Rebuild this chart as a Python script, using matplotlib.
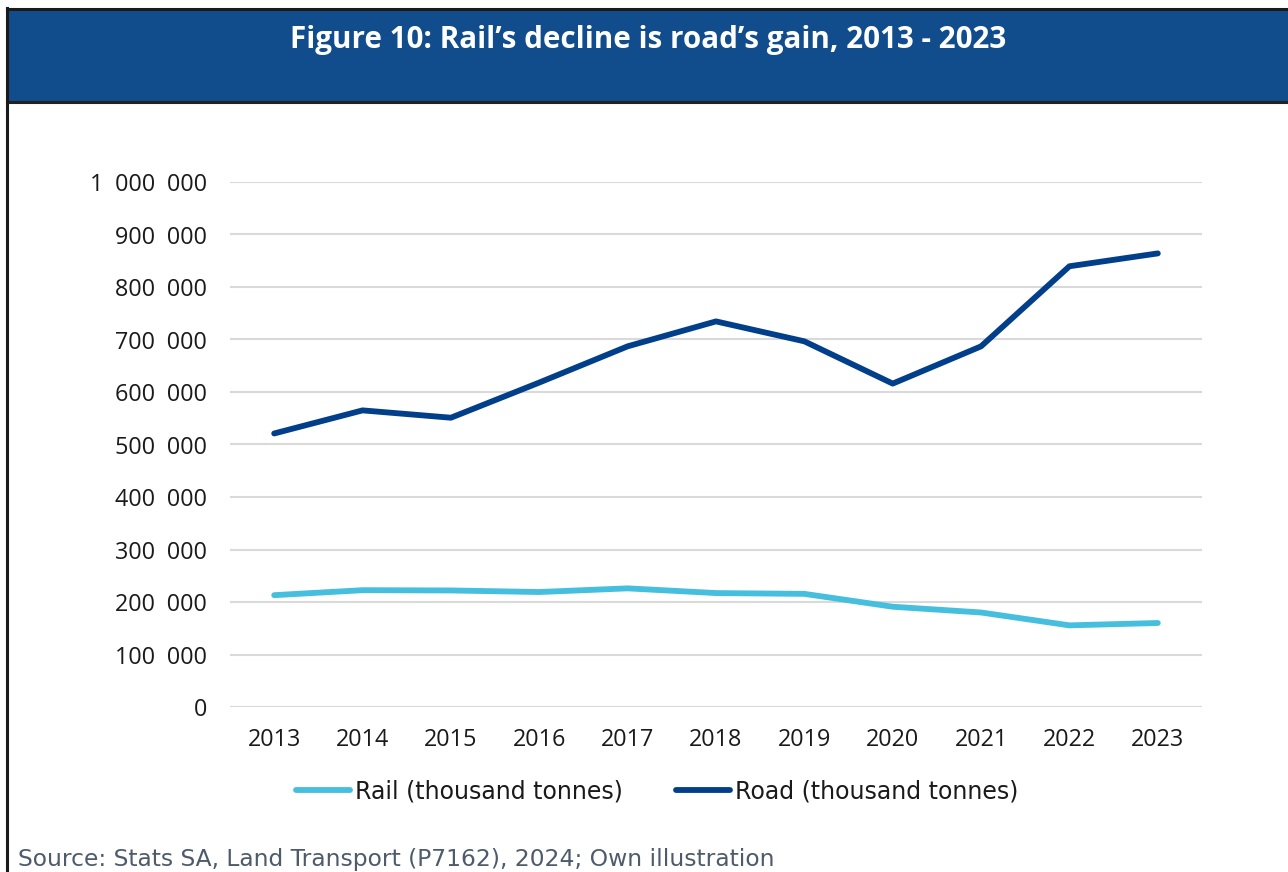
import matplotlib
matplotlib.use("Agg")
import matplotlib.pyplot as plt
from matplotlib.patches import Rectangle
from matplotlib.lines import Line2D
from matplotlib.ticker import FuncFormatter

years = [2013, 2014, 2015, 2016, 2017, 2018, 2019, 2020, 2021, 2022, 2023]
rail = [213000, 222500, 222000, 219000, 226000, 217000, 215500, 191000, 180000, 155500, 160000]
road = [521000, 565000, 551000, 618000, 687000, 734500, 696500, 616000, 687000, 839500, 864000]

title = "Figure 10: Rail\u2019s decline is road\u2019s gain, 2013 - 2023"
source = "Source: Stats SA, Land Transport (P7162), 2024; Own illustration"

plt.rcParams['font.family'] = ['Open Sans', 'DejaVu Sans']
text_font = ['DejaVu Sans']

W, H = 1288, 872
fig = plt.figure(figsize=(W / 100, H / 100), dpi=100)
fig.patch.set_facecolor("white")

# header band
fig.patches.append(Rectangle((7 / W, 1 - 103 / H), 1, 94 / H, transform=fig.transFigure,
                             facecolor="#114d8c", edgecolor="none", zorder=0))
fig.add_artist(Line2D([7 / W, 1], [1 - 9 / H, 1 - 9 / H], color="#1a1a1a", lw=2.2))
fig.add_artist(Line2D([7 / W, 1], [1 - 102.5 / H, 1 - 102.5 / H], color="#222222", lw=2.2))
fig.add_artist(Line2D([7 / W, 7 / W], [0, 1 - 8 / H], color="#1a1a1a", lw=2.2))
fig.text(648 / W, 1 - 40 / H, title, color="white", fontsize=21.3, fontweight="bold",
         ha="center", va="center")

ax = fig.add_axes([230 / W, 1 - 707 / H, 972 / W, 525 / H])
ax.plot(years, rail, color="#45bfdd", lw=4.2, solid_capstyle="round", solid_joinstyle="round",
        label="Rail (thousand tonnes)", zorder=3)
ax.plot(years, road, color="#023f8a", lw=4.2, solid_capstyle="round", solid_joinstyle="round",
        label="Road (thousand tonnes)", zorder=3)

ax.set_xlim(2012.5, 2023.5)
ax.set_ylim(0, 1000000)
ax.set_yticks(range(0, 1000001, 100000))
ax.set_xticks(years)
# en spaces between thousands groups
ax.yaxis.set_major_formatter(FuncFormatter(lambda v, p: f"{int(v):,}".replace(",", "\u2002")))
ax.grid(axis="y", color="#d9d9d9", lw=1.5)
ax.set_axisbelow(True)
for s in ax.spines.values():
    s.set_visible(False)
ax.tick_params(length=0, labelsize=16.8, colors="#1a1a1a")
ax.tick_params(axis="y", pad=16.5)
ax.tick_params(axis="x", pad=15)

leg = ax.legend(loc="center", bbox_to_anchor=(657 / W, 1 - 791 / H), bbox_transform=fig.transFigure,
                ncol=2, frameon=False, prop={"family": text_font, "size": 17},
                handlelength=2.3, handletextpad=0.2, columnspacing=2.25)
for t in leg.get_texts():
    t.set_color("#1a1a1a")

fig.text(18 / W, 1 - 859 / H, source, color="#4d5b6b", fontsize=16.8, family=text_font,
         ha="left", va="center")

fig.savefig("out.png", dpi=100)
